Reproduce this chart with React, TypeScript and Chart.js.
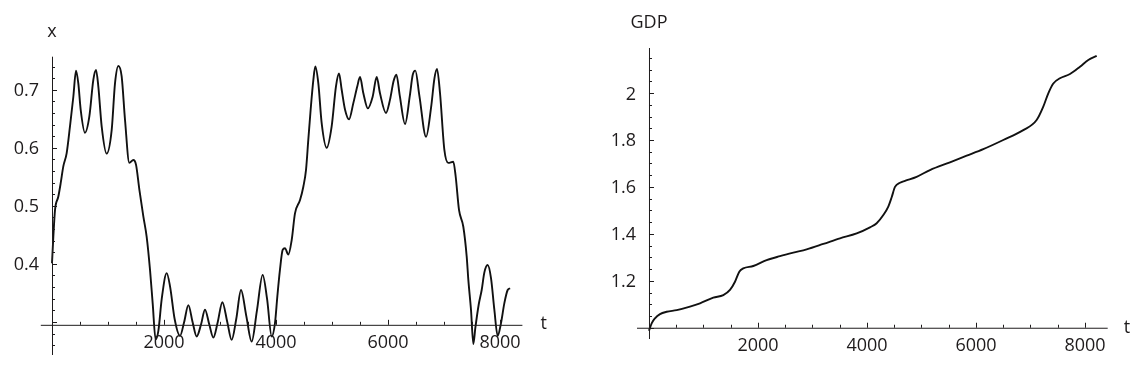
import React, { useEffect, useRef } from "react";
import { Chart, registerables } from "chart.js";
Chart.register(...registerables);

// ---- Left panel: x(t) ----
const xTimes = [
  0, 24, 54, 113, 155, 202, 262, 321, 381, 429, 470, 512, 589, 667, 738, 786, 827, 887, 976,
  1066, 1125, 1185, 1244, 1304, 1381, 1452, 1500, 1560, 1631, 1690, 1750, 1798, 1850, 1900,
  1960, 2048, 2110, 2190, 2286, 2360, 2435, 2510, 2583, 2660, 2732, 2810, 2881, 2960, 3042,
  3130, 3208, 3290, 3375, 3470, 3565, 3660, 3762, 3840, 3923, 3982, 4024, 4071, 4119, 4160,
  4220, 4280, 4339, 4429, 4488, 4536, 4577, 4619, 4667, 4702, 4756, 4815, 4905, 4994, 5071,
  5125, 5173, 5232, 5304, 5381, 5452, 5500, 5560, 5640, 5726, 5798, 5857, 5964, 6036, 6100,
  6150, 6210, 6304, 6390, 6440, 6488, 6560, 6680, 6770, 6830, 6875, 6929, 7006, 7077, 7166,
  7208, 7268, 7345, 7405, 7435, 7482, 7524, 7560, 7620, 7673, 7720, 7780, 7840, 7899, 7958,
  8018, 8077, 8137, 8179,
];
const xValues = [
  0.401, 0.447, 0.493, 0.516, 0.539, 0.568, 0.591, 0.637, 0.688, 0.733, 0.711, 0.666, 0.626,
  0.654, 0.717, 0.734, 0.706, 0.637, 0.590, 0.631, 0.711, 0.741, 0.723, 0.648, 0.574, 0.579,
  0.571, 0.528, 0.482, 0.447, 0.390, 0.332, 0.270, 0.285, 0.340, 0.384, 0.360, 0.305, 0.276,
  0.300, 0.329, 0.300, 0.275, 0.295, 0.321, 0.295, 0.273, 0.300, 0.334, 0.300, 0.269, 0.305,
  0.355, 0.310, 0.266, 0.320, 0.381, 0.340, 0.275, 0.298, 0.344, 0.390, 0.424, 0.427, 0.416,
  0.441, 0.487, 0.510, 0.533, 0.562, 0.614, 0.666, 0.717, 0.740, 0.711, 0.643, 0.600, 0.637,
  0.706, 0.728, 0.700, 0.666, 0.649, 0.677, 0.706, 0.722, 0.694, 0.668, 0.688, 0.722, 0.694,
  0.660, 0.683, 0.715, 0.726, 0.690, 0.641, 0.690, 0.725, 0.733, 0.690, 0.619, 0.670, 0.720,
  0.736, 0.694, 0.597, 0.574, 0.576, 0.551, 0.493, 0.464, 0.413, 0.372, 0.321, 0.262, 0.290,
  0.330, 0.355, 0.385, 0.398, 0.375, 0.321, 0.276, 0.298, 0.332, 0.355, 0.358,
];
const leftXTickLabels = [2000, 4000, 6000, 8000];
const leftYTickLabels = [0.4, 0.5, 0.6, 0.7];

// ---- Right panel: GDP(t) ----
const gdpTimes = [
  0, 49, 110, 202, 324, 508, 752, 936, 1180, 1364, 1486, 1578, 1657, 1730, 1914, 2159, 2404,
  2648, 2893, 3199, 3505, 3811, 4055, 4178, 4300, 4391, 4453, 4514, 4606, 4697, 4911, 5156,
  5523, 5829, 6134, 6501, 6868, 7113, 7235, 7327, 7419, 7541, 7725, 7908, 8061, 8215,
];
const gdpValues = [
  0.987, 1.019, 1.040, 1.058, 1.068, 1.075, 1.090, 1.104, 1.128, 1.139, 1.161, 1.196, 1.239,
  1.253, 1.263, 1.288, 1.305, 1.320, 1.334, 1.357, 1.381, 1.402, 1.428, 1.445, 1.480, 1.516,
  1.556, 1.600, 1.618, 1.626, 1.643, 1.672, 1.705, 1.733, 1.761, 1.800, 1.842, 1.885, 1.942,
  1.999, 2.041, 2.063, 2.081, 2.112, 2.141, 2.158,
];
const rightXTickLabels = [2000, 4000, 6000, 8000];
const rightYTickLabels = ["1.2", "1.4", "1.6", "1.8", "2"];

const FONT = '18px "Open Sans", "Noto Sans", sans-serif';
const INK = "#1e1b1c";

type AxisCfg = {
  originX: number;
  originY: number;
  xMinor: number;
  xMajorEvery: number;
  yMinor: number;
  yMajorEvery: number;
  xLabels: (number | string)[];
  yLabels: (number | string)[];
  xName: string;
  yName: string;
  tGap: number;
  tDrop: number;
};

function makeAxesPlugin(cfg: AxisCfg) {
  return {
    id: "mmaAxes",
    afterDatasetsDraw(chart: any) {
      const ctx = chart.ctx as CanvasRenderingContext2D;
      const xs = chart.scales.x;
      const ys = chart.scales.y;
      const area = chart.chartArea;
      const ax = xs.getPixelForValue(cfg.originX);
      const ay = ys.getPixelForValue(cfg.originY);
      ctx.save();
      ctx.strokeStyle = INK;
      ctx.lineWidth = 1;
      ctx.beginPath();
      ctx.moveTo(area.left, ay + 0.5);
      ctx.lineTo(area.right, ay + 0.5);
      ctx.moveTo(ax + 0.5, area.top);
      ctx.lineTo(ax + 0.5, area.bottom);
      ctx.stroke();
      // tick marks
      ctx.beginPath();
      const i0 = Math.ceil(xs.min / cfg.xMinor);
      const i1 = Math.floor(xs.max / cfg.xMinor);
      for (let i = i0; i <= i1; i++) {
        if (i === 0) continue;
        const px = Math.round(xs.getPixelForValue(i * cfg.xMinor)) + 0.5;
        const len = i % cfg.xMajorEvery === 0 ? 5 : 3;
        ctx.moveTo(px, ay);
        ctx.lineTo(px, ay - len);
      }
      const j0 = Math.ceil(ys.min / cfg.yMinor - 1e-9);
      const j1 = Math.floor(ys.max / cfg.yMinor + 1e-9);
      for (let j = j0; j <= j1; j++) {
        const py = Math.round(ys.getPixelForValue(j * cfg.yMinor)) + 0.5;
        const len = j % cfg.yMajorEvery === 0 ? 5 : 3;
        ctx.moveTo(ax, py);
        ctx.lineTo(ax + len, py);
      }
      ctx.stroke();
      // labels
      ctx.fillStyle = INK;
      ctx.font = FONT;
      ctx.textBaseline = "alphabetic";
      ctx.textAlign = "center";
      cfg.xLabels.forEach((l) => {
        const px = xs.getPixelForValue(Number(l));
        ctx.fillText(String(l), px, ay + 23);
      });
      ctx.textAlign = "right";
      cfg.yLabels.forEach((l) => {
        const py = ys.getPixelForValue(Number(l));
        ctx.fillText(String(l), ax - 13, py + 6.5);
      });
      ctx.textAlign = "center";
      ctx.fillText(cfg.yName, ax, area.top - 20);
      ctx.textAlign = "left";
      ctx.fillText(cfg.xName, area.right + cfg.tGap, ay + cfg.tDrop);
      ctx.restore();
    },
  };
}

function Panel(props: {
  left: number;
  times: number[];
  values: number[];
  xMin: number;
  xMax: number;
  yMin: number;
  yMax: number;
  padding: { left: number; right: number; top: number; bottom: number };
  axes: AxisCfg;
  lineWidth: number;
}) {
  const ref = useRef<HTMLCanvasElement | null>(null);
  useEffect(() => {
    if (!ref.current) return;
    const data = props.times.map((t, i) => ({ x: t, y: props.values[i] }));
    const chart = new Chart(ref.current, {
      type: "line",
      data: {
        datasets: [
          {
            data,
            borderColor: "#111",
            borderWidth: props.lineWidth,
            pointRadius: 0,
            cubicInterpolationMode: "monotone",
            fill: false,
          },
        ],
      },
      options: {
        animation: false,
        responsive: true,
        maintainAspectRatio: false,
        layout: { padding: props.padding },
        plugins: { legend: { display: false }, tooltip: { enabled: false } },
        scales: {
          x: { type: "linear", min: props.xMin, max: props.xMax, display: false },
          y: { type: "linear", min: props.yMin, max: props.yMax, display: false },
        },
      },
      plugins: [makeAxesPlugin(props.axes)],
    } as any);
    return () => chart.destroy();
  }, []);
  return (
    <div style={{ position: "absolute", left: props.left, top: 0, width: 567, height: 384 }}>
      <canvas ref={ref} />
    </div>
  );
}

export default function App() {
  return (
    <div
      style={{
        position: "fixed",
        left: 0,
        top: 0,
        width: 1134,
        height: 384,
        background: "#fff",
        overflow: "hidden",
      }}
    >
      <Panel
        left={0}
        times={xTimes}
        values={xValues}
        xMin={-200}
        xMax={8400}
        yMin={0.243}
        yMax={0.757}
        padding={{ left: 40.8, right: 44.6, top: 56.7, bottom: 29 }}
        lineWidth={1.9}
        axes={{
          originX: 0,
          originY: 0.295,
          xMinor: 500,
          xMajorEvery: 4,
          yMinor: 0.02,
          yMajorEvery: 5,
          xLabels: leftXTickLabels,
          yLabels: leftYTickLabels,
          xName: "t",
          yName: "x",
          tGap: 18,
          tDrop: 4.5,
        }}
      />
      <Panel
        left={567}
        times={gdpTimes}
        values={gdpValues}
        xMin={-220}
        xMax={8417}
        yMin={0.952}
        yMax={2.192}
        padding={{ left: 70, right: 26.3, top: 48, bottom: 45 }}
        lineWidth={1.9}
        axes={{
          originX: 0,
          originY: 1,
          xMinor: 500,
          xMajorEvery: 4,
          yMinor: 0.05,
          yMajorEvery: 4,
          xLabels: rightXTickLabels,
          yLabels: rightYTickLabels,
          xName: "t",
          yName: "GDP",
          tGap: 16,
          tDrop: 5.3,
        }}
      />
    </div>
  );
}
